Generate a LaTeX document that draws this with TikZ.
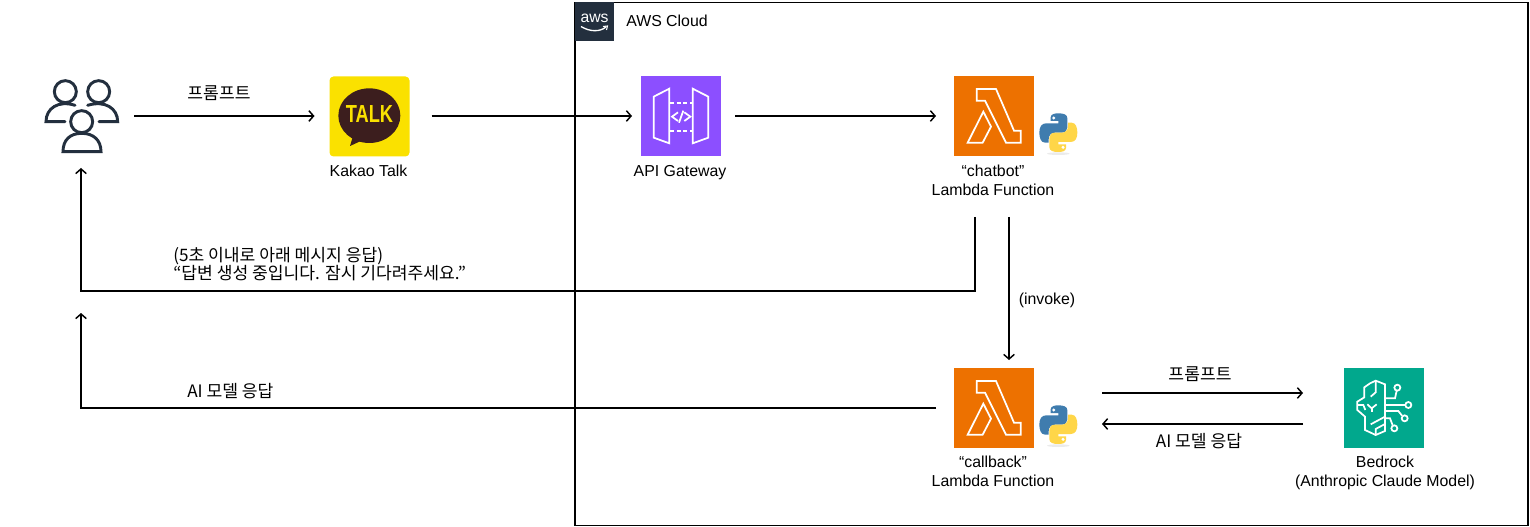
\documentclass[tikz,border=0pt]{standalone}
\usepackage{fontspec}
\setmainfont{Liberation Sans}
\newfontfamily\kr{Noto Sans CJK KR}
\usetikzlibrary{arrows.meta}
\definecolor{awsdark}{HTML}{232F3E}
\definecolor{kakaoyellow}{HTML}{FAE100}
\definecolor{kakaobrown}{HTML}{3C1E1E}
\definecolor{apipurple}{HTML}{8C4FFF}
\definecolor{lambdaorange}{HTML}{ED7100}
\definecolor{bedrockgreen}{HTML}{01A88D}
\definecolor{pyblue}{HTML}{3F7CAE}
\definecolor{pyyellow}{HTML}{FFD648}
\tikzset{
  flow/.style={line width=1.2pt,-{Straight Barb[length=3.5pt,width=8pt,line width=1.1pt]},line join=miter},
  iconbox/.style={rectangle,minimum size=60pt,inner sep=0pt,outer sep=0pt},
  lab/.style={font=\fontsize{11.9pt}{14.25pt}\selectfont,align=center,inner sep=0pt,text=black},
  krlab/.style={font=\kr\fontsize{12.85pt}{13.5pt}\selectfont,align=left,inner sep=0pt,text=black},
  glyph/.style={draw=white,line width=1.3pt,line join=miter},
  lambdaglyph/.pic={
    \begin{scope}[x=.25pt,y=-.25pt]
      \draw[glyph] (170,87) -- (228,87) -- (282,212) -- (302,212) -- (302,248) -- (258,248) -- (195,122) -- (170,122) -- cycle;
      \draw[glyph] (190,155) -- (213,200) -- (188,248) -- (143,248) -- cycle;
    \end{scope}
  },
  pythonglyph/.pic={
    \begin{scope}[x=.25pt,y=-.25pt]
      \fill[black,opacity=.08] (415,281) ellipse (34 and 4);
      \def\snake{(392,172) .. controls (392,162) and (405,160) .. (415,160) .. controls (430,160) and (442,163) .. (442,175) -- (442,203) .. controls (442,212) and (435,218) .. (425,218) -- (405,218) .. controls (393,218) and (386,226) .. (386,238) -- (386,248) -- (375,248) .. controls (362,248) and (358,232) .. (358,218) .. controls (358,202) and (364,190) .. (378,190) -- (415,190) -- (415,183) -- (392,183) -- cycle}
      \fill[pyblue] \snake;
      \fill[white] (401,174) circle (5);
      \begin{scope}[rotate around={180:(415,218)}]
        \fill[pyyellow] \snake;
        \fill[white] (401,174) circle (5);
      \end{scope}
    \end{scope}
  }
}
\begin{document}
\begin{tikzpicture}[x=.75pt,y=-.75pt]
\useasboundingbox (0,0) rectangle (1530,527);
\fill[white] (0,0) rectangle (1530,527);

% AWS Cloud frame
\node[rectangle,draw=black,line width=1.1pt,inner sep=0pt,outer sep=0pt,minimum width=714.75pt,minimum height=392.25pt,anchor=north west] (cloud) at (575,2.5) {};
\node[rectangle,fill=awsdark,minimum size=29.25pt,inner sep=0pt,outer sep=0pt,anchor=north west] (awsbadge) at (575,2) {};
\node[inner sep=0pt,text=white,font=\fontsize{11.8pt}{14pt}\selectfont] (awstext) at (594.5,18) {aws};
\draw[white,line width=1pt] (581,26.5) .. controls (590,32) and (600,32) .. (606,27);
\draw[white,line width=.8pt] (603,26.5) -- (607.5,26) -- (606.5,30);
\node[lab,anchor=west] (cloudlab) at (626,21) {AWS Cloud};

% people
\node[iconbox,minimum width=56.25pt] (people) at (81.5,116) {};
\begin{scope}[shift={(20,60)},x=.25pt,y=-.25pt,draw=awsdark,line width=2.2pt,line cap=round]
  \draw (136,95) circle (33);
  \draw (236,95) circle (33);
  \draw (185,185) circle (33);
  \draw (165,136) .. controls (115,120) and (78,145) .. (78,185) -- (135,185);
  \draw (203,136) .. controls (255,120) and (293,145) .. (293,185) -- (237,185);
  \draw (129,275) .. controls (129,240) and (150,220) .. (185,220) .. controls (220,220) and (243,240) .. (243,275) -- cycle;
\end{scope}

% kakao
\node[iconbox,rounded corners=3pt,fill=kakaoyellow] (kakao) at (369.5,116.5) {};
\begin{scope}[shift={(20,60)},x=.25pt,y=-.25pt]
  \fill[kakaobrown] (1048,167) ellipse (93 and 82);
  \fill[kakaobrown] (1000,225) -- (990,258) -- (1040,235) -- cycle;
\end{scope}
\node[inner sep=0pt,text=kakaoyellow,font=\bfseries\fontsize{18.5pt}{19pt}\selectfont,xscale=.74,transform shape] (talk) at (369.5,114.5) {TALK};
\node[lab] (kakaolab) at (368.5,171) {Kakao Talk};

% API gateway
\node[iconbox,fill=apipurple] (api) at (681,116) {};
\begin{scope}[shift={(560,0)},x=.25pt,y=-.25pt]
  \draw[glyph] (281,290) -- (328,266) -- (328,430) -- (281,413) -- cycle;
  \draw[glyph] (398,266) -- (445,290) -- (445,413) -- (398,430) -- cycle;
  \draw[glyph,dash pattern=on 3pt off 2pt] (330,309) -- (398,309);
  \draw[glyph,dash pattern=on 3pt off 2pt] (330,392) -- (398,392);
  \draw[glyph] (354,337) -- (336,350) -- (354,363);
  \draw[glyph] (373,337) -- (391,350) -- (373,363);
  \draw[glyph] (370,332) -- (357,368);
\end{scope}
\node[lab] (apilab) at (680,173) {API Gateway};

% chatbot lambda
\node[iconbox,fill=lambdaorange] (lam1) at (994,116) {};
\path (920,60) pic {lambdaglyph} pic {pythonglyph};
\node[lab] (lam1lab) at (993,180.5) {“chatbot”\\Lambda Function};

% callback lambda
\node[iconbox,fill=lambdaorange] (lam2) at (994,408) {};
\path (920,352) pic {lambdaglyph} pic {pythonglyph};
\node[lab] (lam2lab) at (993,471.5) {“callback”\\Lambda Function};

% bedrock
\node[iconbox,fill=bedrockgreen] (bedrock) at (1384,408) {};
\begin{scope}[shift={(1330,355)},x=.25pt,y=-.25pt]
  \draw[glyph] (165,88) -- (137,77) -- (120,85) -- (103,97) -- (103,127) -- (82,140) -- (82,165) -- (105,185) -- (105,225) -- (137,240) -- (165,228) -- cycle;
  \draw[glyph] (137,77) -- (137,112) -- (122,125);
  \draw[glyph] (112,148) -- (125,160) -- (140,148);
  \draw[glyph] (125,160) -- (125,172);
  \draw[glyph] (84,150) -- (100,150) -- (106,165);
  \draw[glyph] (122,208) -- (165,185);
  \draw[glyph] (137,240) -- (137,222) -- (165,207);
  \draw[glyph] (165,130) -- (195,130) -- (200,107);
  \draw[glyph] (202,98) circle (9);
  \draw[glyph] (165,150) -- (226,150);
  \draw[glyph] (235,150) circle (9);
  \draw[glyph] (165,168) -- (205,168) -- (216,182);
  \draw[glyph] (224,190) circle (9);
  \draw[glyph] (165,190) -- (180,190) -- (188,211);
  \draw[glyph] (193,220) circle (9);
\end{scope}
\node[lab] (bedrocklab) at (1385,473) {Bedrock\\(Anthropic Claude Model)};

% free-end coordinates of the return lines
\coordinate (ret1a) at (975,217);
\coordinate (ret1b) at (975,291);
\coordinate (ret1c) at (81,291);
\coordinate (ret2a) at (81,408);
\coordinate (ret2b) at (81,313);

% connectors
\draw[flow] ([shift={(15,0)}]people.east) -- ([shift={(-15,0)}]kakao.west |- people.east);
\draw[flow] ([shift={(22,0)}]kakao.east |- people.east) -- ([shift={(-9,0)}]api.west);
\draw[flow] ([shift={(14,0)}]api.east) -- ([shift={(-18,0)}]lam1.west);
\draw[flow] (ret1a) -- (ret1b) -- (ret1c) -- ([shift={(-.5,12)}]people.south);
\draw[flow] ([shift={(15,61)}]lam1.south) -- ([shift={(15,-8)}]lam2.north);
\draw[flow] ([shift={(-18,0)}]lam2.west) -- (ret2a) -- (ret2b);
\draw[flow] ([shift={(68,-15)}]lam2.east) -- ([shift={(-41,-15)}]bedrock.west);
\draw[flow] ([shift={(-41,16)}]bedrock.west) -- ([shift={(68,16)}]lam2.east);

% labels
\node[krlab] (k1) at (219,93) {프롬프트};
\node[krlab,anchor=west] (k2) at (173,264) {(5초 이내로 아래 메시지 응답)\\“답변 생성 중입니다. 잠시 기다려주세요.”};
\node[krlab,anchor=west] (k3) at (187,391) {AI 모델 응답};
\node[lab] (inv) at (1047,300) {(invoke)};
\node[krlab] (k4) at (1200,374) {프롬프트};
\node[krlab] (k5) at (1199,441) {AI 모델 응답};
\end{tikzpicture}
\end{document}
